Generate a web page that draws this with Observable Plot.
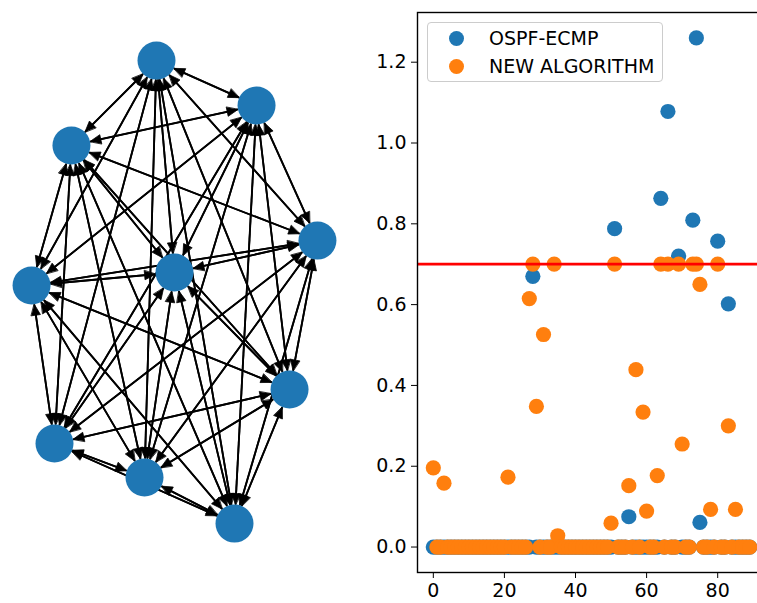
<!DOCTYPE html>
<html>
<head>
<meta charset="utf-8">
<script src="https://cdn.jsdelivr.net/npm/d3@7"></script>
<script src="https://cdn.jsdelivr.net/npm/@observablehq/plot@0.6"></script>
<style>
  html, body { margin: 0; padding: 0; background: white; overflow: hidden; }
  #fig { position: relative; width: 757px; height: 603px; overflow: hidden; background: white; font-family: "DejaVu Sans", sans-serif; }
  #left { position: absolute; left: 0; top: 0; }
  #right { position: absolute; left: 370px; top: 0; width: 387px; height: 603px; overflow: hidden; }
  #legend { position: absolute; left: 427px; top: 22px; width: 236px; height: 60px; box-sizing: border-box;
            border: 1.5px solid #cccccc; border-radius: 4px; background: rgba(255,255,255,0.8); }
  .lg-dot { position: absolute; width: 15px; height: 15px; border-radius: 50%; }
  .lg-txt { position: absolute; font-size: 19px; line-height: 20px; color: black; white-space: nowrap; }
</style>
</head>
<body>
<div id="fig">
  <div id="left"></div>
  <div id="right"></div>
  <div id="legend"></div>
</div>
<script>
// ---------- Network (left panel) ----------
// node layout positions (spring-layout units)
const nodeX = [-0.12, 0.547, -0.687, 0.953, 0.0, -0.953, 0.767, -0.8, -0.2, 0.4];
const nodeY = [0.958, 0.771, 0.604, 0.208, 0.075, 0.021, -0.4125, -0.6375, -0.779, -0.971];
// bidirectional links (each drawn as two directed edges)
const edgePairs = [
  [0,1],[0,2],[0,3],[0,4],[0,5],[0,6],[0,7],[0,8],[0,9],
  [1,2],[1,3],[1,4],[1,5],[1,6],[1,7],[1,8],[1,9],
  [2,3],[2,4],[2,5],[2,6],[2,7],[2,8],[2,9],
  [3,4],[3,5],[3,6],[3,7],[3,8],[3,9],
  [4,5],[4,6],[4,7],[4,8],[4,9],
  [5,6],[5,7],[5,8],[5,9],
  [6,7],[6,8],[6,9],
  [7,8],[7,9],
  [8,9]
];

// ---------- Scatter (right panel) ----------
const seriesNames = ["OSPF-ECMP", "NEW ALGORITHM"];
const seriesColors = ["#1f77b4", "#ff7f0e"];
const ospfValues = [
  0,0,0,0,0,0,0,0,0,0,
  0,0,0,0,0,0,0,0,0,0,
  0,0,0,0,0,0,0,0,0.670,0,
  0,0,0,0,0,0,0,0,0,0,
  0,0,0,0,0,0,0,0,0,0,
  0,0.788,0,0,0,0.075,0,0,0,0,
  0,0,0,0,0.863,0,1.078,0,0,0.720,
  0,0,0,0.809,1.260,0.061,0,0,0,0,
  0.757,0,0,0.602,0,0,0,0,0,0
];
const newAlgValues = [
  0.196,0,0,0.158,0,0,0,0,0,0,
  0,0,0,0,0,0,0,0,0,0,
  0,0.173,0,0,0,0,0,0.615,0.700,0.348,
  0,0.526,0,0,0.700,0.028,0,0,0,0,
  0,0,0,0,0,0,0,0,0,0,
  0.059,0.700,0,0,0,0.152,0,0.439,0,0.334,
  0.089,0,0,0.177,0.700,0,0.700,0,0,0.700,
  0.255,0,0,0.700,0.700,0.650,0,0,0.093,0,
  0.700,0,0,0.300,0,0.093,0,0,0,0
];
const threshold = 0.7;
const xTicks = [0, 20, 40, 60, 80];
const yTicks = [0, 0.2, 0.4, 0.6, 0.8, 1.0, 1.2];

// ---------- build left panel ----------
const W_L = 370, H = 603;
const xDomL = [-1.16, 1.3067], yDomL = [-1.304, 1.2083];
const sx = d3.scaleLinear(xDomL, [0, W_L]);
const sy = d3.scaleLinear(yDomL, [H, 0]);
const R = 19, HL = 11, HW = 4.6;
const nodes = nodeX.map((x, i) => ({id: i, x, y: nodeY[i]}));
const segs = [], heads = [];
for (const [a, b] of edgePairs) {
  for (const [s, t] of [[a, b], [b, a]]) {
    const x1 = sx(nodeX[s]), y1 = sy(nodeY[s]), x2 = sx(nodeX[t]), y2 = sy(nodeY[t]);
    const dx = x2 - x1, dy = y2 - y1, len = Math.hypot(dx, dy);
    const ux = dx / len, uy = dy / len;
    const ax = x1 + ux * R, ay = y1 + uy * R;
    const tx = x2 - ux * R, ty = y2 - uy * R;
    const bx = tx - ux * HL, by = ty - uy * HL;
    segs.push({x1: sx.invert(ax), y1: sy.invert(ay), x2: sx.invert(bx), y2: sy.invert(by)});
    const id = s + "-" + t;
    heads.push({id, x: sx.invert(tx), y: sy.invert(ty)});
    heads.push({id, x: sx.invert(bx - uy * HW), y: sy.invert(by + ux * HW)});
    heads.push({id, x: sx.invert(bx + uy * HW), y: sy.invert(by - ux * HW)});
  }
}
const leftPlot = Plot.plot({
  width: W_L, height: H, margin: 0,
  style: {background: "transparent"},
  x: {domain: xDomL, range: [0, W_L], axis: null},
  y: {domain: yDomL, range: [H, 0], axis: null},
  marks: [
    Plot.link(segs, {x1: "x1", y1: "y1", x2: "x2", y2: "y2", stroke: "black", strokeWidth: 1.8}),
    Plot.line(heads, {x: "x", y: "y", z: "id", curve: "linear-closed", fill: "black", stroke: "black", strokeWidth: 0.8}),
    Plot.dot(nodes, {x: "x", y: "y", r: R, fill: "#1f77b4"})
  ]
});
document.getElementById("left").append(leftPlot);

// ---------- build right panel ----------
const xIndex = ospfValues.map((_, i) => i);
const ospfData = xIndex.map(i => ({x: i, y: ospfValues[i]}));
const newData = xIndex.map(i => ({x: i, y: newAlgValues[i]}));
const rightPlot = Plot.plot({
  width: 387, height: H,
  marginLeft: 47, marginRight: -8, marginTop: 12, marginBottom: 31,
  style: {fontFamily: "DejaVu Sans", fontSize: "19px", color: "black", background: "transparent", overflow: "hidden"},
  x: {domain: [-4.45, 93.45], ticks: xTicks, tickFormat: d => String(d), tickSize: 6, tickPadding: 5, label: null},
  y: {domain: [-0.063, 1.323], ticks: yTicks, tickFormat: d => d.toFixed(1), tickSize: 6, tickPadding: 5, label: null},
  marks: [
    Plot.dot(ospfData, {x: "x", y: "y", r: 7.6, fill: seriesColors[0]}),
    Plot.dot(newData, {x: "x", y: "y", r: 7.6, fill: seriesColors[1]}),
    Plot.ruleY([threshold], {stroke: "red", strokeWidth: 2.7}),
    Plot.frame({stroke: "black", strokeWidth: 1.4})
  ]
});
document.getElementById("right").append(rightPlot);

// ---------- legend ----------
const lg = document.getElementById("legend");
seriesNames.forEach((name, i) => {
  const cy = 15.3 + i * 27.7;
  const dot = document.createElement("div");
  dot.className = "lg-dot";
  dot.style.left = (28 - 7.5) + "px";
  dot.style.top = (cy - 7.5) + "px";
  dot.style.background = seriesColors[i];
  lg.append(dot);
  const t = document.createElement("div");
  t.className = "lg-txt";
  t.style.left = "61px";
  t.style.top = (cy - 10) + "px";
  t.textContent = name;
  lg.append(t);
});
</script>
</body>
</html>
